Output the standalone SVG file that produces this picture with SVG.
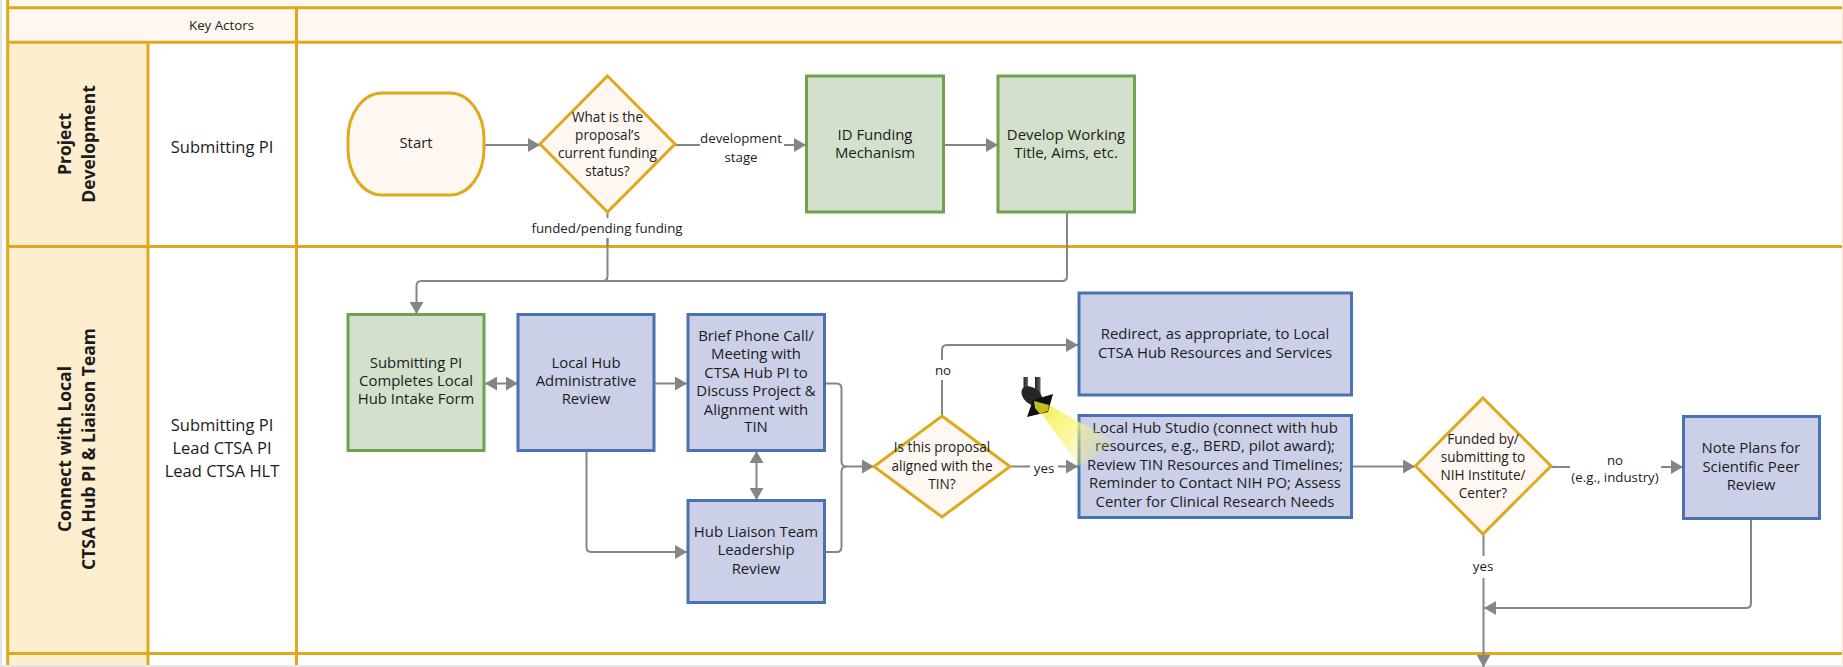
<svg xmlns="http://www.w3.org/2000/svg" width="1843" height="667" viewBox="0 0 1843 667">
<defs>
<marker id="arr" markerUnits="userSpaceOnUse" markerWidth="12" markerHeight="14" refX="12" refY="7" orient="auto-start-reverse"><path d="M0,0 L12,7 L0,14 Z" fill="#858585"/></marker>
<linearGradient id="beam" gradientUnits="userSpaceOnUse" x1="1040" y1="405" x2="1112" y2="452"><stop offset="0" stop-color="#f3ee45" stop-opacity=".95"/><stop offset=".45" stop-color="#fbf88a" stop-opacity=".85"/><stop offset=".62" stop-color="#f6f27a" stop-opacity=".5"/><stop offset="1" stop-color="#f0ec70" stop-opacity=".08"/></linearGradient>
<linearGradient id="post" x1="0" x2="1" y1="0" y2="0"><stop offset="0" stop-color="#222"/><stop offset="1" stop-color="#666"/></linearGradient>
</defs>
<style>
text{font-family:"Open Sans","Noto Sans","Liberation Sans",sans-serif;font-size:14.900px;fill:#1c1c1c;text-anchor:middle}
.rail{stroke:#dea91c;stroke-width:3;fill:none}
.g{fill:#d3e0cc;stroke:#70a14e;stroke-width:3}
.b{fill:#cbd0e8;stroke:#4a72b2;stroke-width:3}
.d{fill:#fff8f2;stroke:#dea91c;stroke-width:3}
.c{fill:none;stroke:#858585;stroke-width:2}
.a{marker-end:url(#arr)}
.t{font-size:17.500px;font-weight:700}
.lbl{font-size:13.300px}
.q{font-size:13.600px}
.k{font-size:16.500px}
</style>
<rect width="1843" height="667" fill="#fff"/>
<g id="lanes">
<rect x="8" y="0" width="1835" height="42" fill="#fff7f0"/>
<rect x="8" y="42" width="140" height="625" fill="#fdeecf"/>
<path class="rail" d="M7.700,0V667M148,42V667M296.500,8V667M8,7.700H1843M8,42.200H1843M8,246.500H1843M8,653.500H1843"/>
<rect x="0" y="665" width="1843" height="2" fill="#e6e6e6"/>
<rect x="0" y="0" width="2" height="665" fill="#e4e4e4"/>
<rect x="1842" y="0" width="1" height="665" fill="#f5e8cf"/>
<text x="221.500" y="29.500" style="font-size:13.300px">Key Actors</text>
<text class="t" transform="translate(71,144) rotate(-90)">Project</text>
<text class="t" transform="translate(95,144) rotate(-90)">Development</text>
<text class="t" transform="translate(71,449) rotate(-90)">Connect with Local</text>
<text class="t" transform="translate(95,449) rotate(-90)">CTSA Hub PI &amp; Liaison Team</text>
<text class="k" x="222" y="153">Submitting PI</text>
<text class="k" x="222" y="431">Submitting PI</text>
<text class="k" x="222" y="454">Lead CTSA PI</text>
<text class="k" x="222" y="477">Lead CTSA HLT</text>
</g>
<g id="connectors">
<path class="c a" d="M484,145H540"/>
<path class="c a" d="M675,145H806"/>
<path class="c a" d="M944,145H998"/>
<path class="c" d="M607.500,212V276Q607.500,281 602.500,281"/>
<path class="c a" d="M1067,213V276Q1067,281 1062,281H421.500Q416.500,281 416.500,286V314"/>
<path class="c a" style="marker-start:url(#arr)" d="M485,383.500H518"/>
<path class="c a" d="M654,383.500H687"/>
<path class="c a" d="M586.500,451V547Q586.500,552 591.500,552H687"/>
<path class="c a" style="marker-start:url(#arr)" d="M756.500,451V500"/>
<path class="c a" d="M825,383.500H836.500Q841.500,383.500 841.500,388.500V461.500Q841.500,466.500 846.500,466.500H874"/>
<path class="c" d="M825,552H836.500Q841.500,552 841.500,547V471.500Q841.500,466.500 846.500,466.500"/>
<path class="c a" d="M942,416V350Q942,345 947,345H1078"/>
<path class="c a" d="M1010,466.500H1078"/>
<path class="c a" d="M1352,466.500H1415"/>
<path class="c a" d="M1551,467H1683"/>
<path class="c" d="M1483.500,534V653"/>
<path class="c a" d="M1751,519V603Q1751,608 1746,608H1484"/>
<path class="c a" d="M1483.500,653V667"/>
</g>
<g id="edge-labels">
<rect x="530" y="218" width="155" height="20" fill="#fff"/><path class="c" d="M607.500,238V246"/>
<text class="lbl" x="607" y="233">funded/pending funding</text>
<rect x="700" y="128" width="84" height="38" fill="#fff"/>
<text class="lbl" x="741" y="143">development</text><text class="lbl" x="741" y="162">stage</text>
<rect x="930" y="360" width="24" height="20" fill="#fff"/>
<text class="lbl" x="943" y="375">no</text>
<rect x="1030" y="458" width="28" height="18" fill="#fff"/>
<text class="lbl" x="1044" y="473">yes</text>
<rect x="1570" y="450" width="91" height="38" fill="#fff"/>
<text class="lbl" x="1615" y="465">no</text><text class="lbl" x="1615" y="482">(e.g., industry)</text>
<rect x="1470" y="556" width="26" height="22" fill="#fff"/>
<text class="lbl" x="1483" y="571">yes</text>
</g>
<g id="start"><rect class="d" x="348" y="93" width="136" height="102" rx="34" ry="46"/><text x="416" y="148">Start</text></g>
<g id="funding-status"><path class="d" d="M607.500,76L675,144L607.500,212L540,144Z"/><text class="q" x="607.500" y="122">What is the</text><text class="q" x="607.500" y="140">proposal’s</text><text class="q" x="607.500" y="158">current funding</text><text class="q" x="607.500" y="176">status?</text></g>
<g id="id-funding"><rect class="g" x="806.500" y="76" width="137" height="136"/><text x="875" y="140">ID Funding</text><text x="875" y="158">Mechanism</text></g>
<g id="develop"><rect class="g" x="998" y="76" width="136.500" height="136"/><text x="1066" y="140">Develop Working</text><text x="1066" y="158">Title, Aims, etc.</text></g>
<g id="intake"><rect class="g" x="348" y="314.500" width="136" height="136"/><text x="416" y="368">Submitting PI</text><text x="416" y="386">Completes Local</text><text x="416" y="404">Hub Intake Form</text></g>
<g id="admin"><rect class="b" x="518" y="314.500" width="136" height="136"/><text x="586" y="368">Local Hub</text><text x="586" y="386">Administrative</text><text x="586" y="404">Review</text></g>
<g id="brief"><rect class="b" x="688" y="314.500" width="136.500" height="136"/><text x="756" y="341">Brief Phone Call/</text><text x="756" y="359">Meeting with</text><text x="756" y="378">CTSA Hub PI to</text><text x="756" y="396">Discuss Project &amp;</text><text x="756" y="415">Alignment with</text><text x="756" y="432">TIN</text></g>
<g id="liaison"><rect class="b" x="688" y="500.500" width="136.500" height="102"/><text x="756" y="537">Hub Liaison Team</text><text x="756" y="555">Leadership</text><text x="756" y="574">Review</text></g>
<g id="aligned"><path class="d" d="M942,416L1010,466.500L942,517L874,466.500Z"/><text class="q" x="942" y="452">Is this proposal</text><text class="q" x="942" y="471">aligned with the</text><text class="q" x="942" y="489">TIN?</text></g>
<g id="redirect"><rect class="b" x="1079" y="293" width="272.500" height="102"/><text x="1215" y="339">Redirect, as appropriate, to Local</text><text x="1215" y="358">CTSA Hub Resources and Services</text></g>
<g id="studio"><rect class="b" x="1079" y="415.500" width="272.500" height="102"/><text x="1215" y="433">Local Hub Studio (connect with hub</text><text x="1215" y="451">resources, e.g., BERD, pilot award);</text><text x="1215" y="470">Review TIN Resources and Timelines;</text><text x="1215" y="488">Reminder to Contact NIH PO; Assess</text><text x="1215" y="507">Center for Clinical Research Needs</text></g>
<g id="nih"><path class="d" d="M1483,398L1551,466L1483,534L1415.500,466Z"/><text class="q" x="1483" y="444">Funded by/</text><text class="q" x="1483" y="462">submitting to</text><text class="q" x="1483" y="480">NIH Institute/</text><text class="q" x="1483" y="498">Center?</text></g>
<g id="note"><rect class="b" x="1683.500" y="416.500" width="136" height="102"/><text x="1751" y="453">Note Plans for</text><text x="1751" y="472">Scientific Peer</text><text x="1751" y="490">Review</text></g>
<g id="spotlight">
<path d="M1035,404L1052,407L1117,443L1079,466Z" fill="url(#beam)"/>
<rect x="1023.500" y="377" width="4.500" height="16" fill="url(#post)"/><rect x="1035" y="377" width="5.500" height="18" fill="url(#post)"/>
<ellipse cx="1032" cy="396" rx="12" ry="8" transform="rotate(40 1032 396)" fill="#262626"/>
<path d="M1027,417L1033,400L1053,394L1048,412Z" fill="#111"/>
<path d="M1034,401L1049,405L1048,411L1040,414L1035,408Z" fill="#c4bd22"/>
</g>
</svg>
